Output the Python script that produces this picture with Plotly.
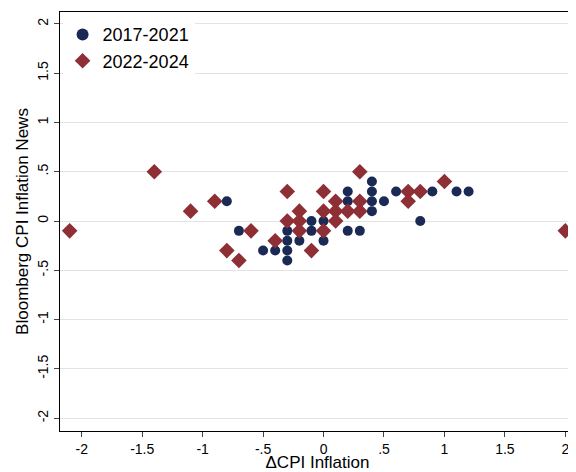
import plotly.graph_objects as go

# 2017-2021 (navy circles)
x_early = [-0.8, -0.7, -0.5, -0.4, -0.3, -0.3, -0.3, -0.3, -0.2, -0.1, -0.1, 0, 0,
           0.2, 0.2, 0.2, 0.3, 0.4, 0.4, 0.4, 0.4, 0.5, 0.6, 0.8, 0.9, 1.1, 1.2]
y_early = [0.2, -0.1, -0.3, -0.3, -0.1, -0.2, -0.3, -0.4, -0.2, 0, -0.1, 0, -0.2,
           0.3, 0.2, -0.1, -0.1, 0.4, 0.3, 0.2, 0.1, 0.2, 0.3, 0, 0.3, 0.3, 0.3]

# 2022-2024 (red diamonds)
x_late = [-2.1, -1.4, -1.1, -0.9, -0.8, -0.7, -0.6, -0.4, -0.3, -0.3, -0.2, -0.2, -0.2,
          -0.1, 0, 0, 0, 0.1, 0.1, 0.1, 0.2, 0.3, 0.3, 0.3, 0.7, 0.7, 0.8, 1.0, 2.0]
y_late = [-0.1, 0.5, 0.1, 0.2, -0.3, -0.4, -0.1, -0.2, 0.3, 0, 0.1, 0, -0.1,
          -0.3, 0.3, 0.1, -0.1, 0.2, 0.1, 0, 0.1, 0.5, 0.2, 0.1, 0.3, 0.2, 0.3, 0.4, -0.1]

ticks = [-2, -1.5, -1, -0.5, 0, 0.5, 1, 1.5, 2]
tick_text = ["-2", "-1.5", "-1", "-.5", "0", ".5", "1", "1.5", "2"]

fig = go.Figure()
fig.add_trace(go.Scatter(x=x_early, y=y_early, mode="markers", name="2017-2021",
                         marker=dict(symbol="circle", size=10, color="#1a2a55")))
fig.add_trace(go.Scatter(x=x_late, y=y_late, mode="markers", name="2022-2024",
                         marker=dict(symbol="diamond", size=12, color="#8e2f35")))

# page body has an 8px margin, so the figure is a bit smaller than the window
fig.update_layout(
    width=568, height=464,
    margin=dict(l=52, r=1, t=4, b=41),
    paper_bgcolor="white", plot_bgcolor="white",
    font=dict(family="Liberation Sans, Arial", color="black", size=14),
    legend=dict(x=0.005, y=0.99, xanchor="left", yanchor="top",
                bgcolor="white", font=dict(size=18), itemsizing="constant"),
)
fig.update_xaxes(range=[-2.18, 2.08], tickvals=ticks, ticktext=tick_text,
                 showgrid=False, zeroline=False, showline=True, linecolor="black",
                 mirror=True, ticks="outside", ticklen=5, automargin=False,
                 title=dict(text="ΔCPI Inflation", standoff=0))
fig.update_yaxes(range=[-2.13, 2.12], tickvals=ticks, ticktext=tick_text, tickangle=-90,
                 showgrid=True, gridcolor="#e3e3e3", zeroline=False, showline=True,
                 linecolor="black", mirror=True, ticks="outside", ticklen=5,
                 automargin=False,
                 title=dict(text="Bloomberg CPI Inflation News", standoff=2))

fig.write_html("out.html")
